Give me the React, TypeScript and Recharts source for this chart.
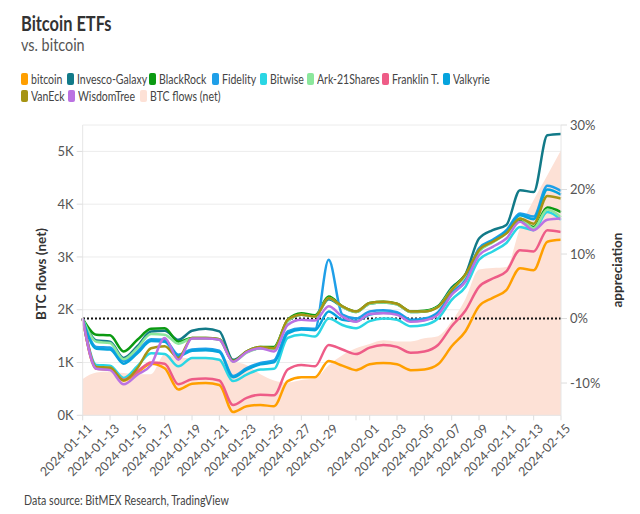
import React from 'react';
import { ComposedChart, Line, Area, XAxis, YAxis, CartesianGrid, ReferenceLine } from 'recharts';

const dates = [
  '2024-01-11', '2024-01-12', '2024-01-13', '2024-01-14', '2024-01-15', '2024-01-16',
  '2024-01-17', '2024-01-18', '2024-01-19', '2024-01-20', '2024-01-21', '2024-01-22',
  '2024-01-23', '2024-01-24', '2024-01-25', '2024-01-26', '2024-01-27', '2024-01-28',
  '2024-01-29', '2024-01-30', '2024-01-31', '2024-02-01', '2024-02-02', '2024-02-03',
  '2024-02-04', '2024-02-05', '2024-02-06', '2024-02-07', '2024-02-08', '2024-02-09',
  '2024-02-10', '2024-02-11', '2024-02-12', '2024-02-13', '2024-02-14', '2024-02-15',
];

const tickDates = [
  '2024-01-11', '2024-01-13', '2024-01-15', '2024-01-17', '2024-01-19', '2024-01-21',
  '2024-01-23', '2024-01-25', '2024-01-27', '2024-01-29', '2024-01-31', '2024-02-01',
  '2024-02-03', '2024-02-05', '2024-02-07', '2024-02-09', '2024-02-11', '2024-02-13',
  '2024-02-15',
];
const unlabeledTickDates = ['2024-01-31'];

// BTC flows (net), thousands of BTC
const btcFlows = [
  0.69, 0.81, 0.83, 0.80, 0.78, 0.78, 1.15, 1.10, 1.08, 1.08, 1.07, 1.02,
  0.95, 0.78, 0.66, 0.62, 0.67, 0.70, 0.95, 1.14, 1.27, 1.35, 1.42, 1.40,
  1.40, 1.46, 1.50, 1.78, 2.20, 2.76, 2.79, 2.81, 3.55, 4.08, 4.55, 5.02,
];

// appreciation, percent
const bitcoin = [
  0, -7.8, -7.9, -9.6, -8.4, -7.0, -7.7, -11.0, -10.1, -10.0, -10.3, -14.5,
  -13.6, -13.4, -13.6, -9.7, -9.1, -9.1, -6.6, -7.3, -8.0, -7.1, -6.9, -7.1,
  -8.0, -7.9, -7.1, -4.3, -2.0, 1.9, 3.2, 4.4, 7.8, 7.5, 11.9, 12.2,
];
const invescoGalaxy = [
  0, -3.4, -3.6, -6.1, -4.3, -2.0, -1.9, -3.3, -1.9, -1.6, -2.0, -6.4,
  -5.2, -4.6, -4.6, -0.4, 0.6, 0.4, 3.0, 1.8, 1.0, 2.3, 2.5, 2.2,
  1.0, 1.1, 1.9, 4.8, 6.8, 12.4, 13.7, 14.5, 19.9, 19.6, 28.4, 28.6,
];
const blackRock = [
  0, -2.5, -2.6, -5.1, -3.3, -1.6, -1.5, -3.6, -3.0, -3.0, -3.2, -6.6,
  -5.1, -4.4, -4.4, -0.2, 0.8, 0.5, 3.4, 1.9, 1.1, 2.4, 2.6, 2.3,
  1.1, 1.2, 1.9, 4.6, 6.8, 10.5, 11.9, 13.3, 15.3, 14.2, 17.2, 16.5,
];
const fidelity = [
  0, -4.4, -4.5, -6.6, -5.1, -3.2, -3.3, -5.6, -4.8, -4.7, -5.0, -8.9,
  -7.7, -6.9, -6.5, -2.0, -1.5, -1.6, 9.1, 0.6, 0.0, 1.1, 1.3, 1.0,
  -0.2, 0.0, 1.0, 4.0, 6.0, 10.9, 12.2, 13.7, 16.3, 15.8, 20.6, 19.8,
];
const bitwise = [
  0, -7.2, -7.3, -9.2, -7.4, -5.4, -5.5, -7.4, -6.1, -6.1, -6.4, -9.7,
  -8.7, -7.9, -7.8, -3.0, -2.5, -2.8, 0.0, -1.0, -1.5, -0.4, 0.0, -0.2,
  -1.2, -1.0, 0.0, 2.9, 4.9, 9.1, 10.4, 11.7, 14.2, 13.7, 16.5, 15.3,
];
const ark21Shares = [
  0, -3.6, -3.8, -6.3, -4.6, -2.4, -2.5, -3.9, -3.1, -3.1, -3.3, -6.7,
  -5.3, -4.6, -4.6, -0.4, 0.6, 0.3, 3.2, 1.8, 1.0, 2.3, 2.5, 2.2,
  1.0, 1.1, 1.8, 4.5, 6.6, 10.4, 11.8, 13.2, 15.5, 14.0, 16.9, 15.7,
];
const franklin = [
  0, -7.7, -7.8, -9.5, -8.2, -6.8, -7.0, -10.2, -9.4, -9.3, -9.6, -13.4,
  -12.3, -11.8, -11.9, -7.9, -7.2, -7.4, -4.1, -4.8, -5.5, -4.5, -4.1, -4.4,
  -5.3, -5.1, -4.1, -1.2, 1.2, 4.9, 6.2, 7.3, 10.6, 10.4, 13.7, 13.4,
];
const valkyrie = [
  0, -4.7, -4.8, -7.0, -5.4, -3.5, -3.6, -5.8, -5.0, -4.9, -5.2, -9.1,
  -7.9, -7.1, -6.8, -2.3, -1.7, -1.8, 1.1, -0.2, -0.4, 0.6, 0.9, 0.7,
  -0.4, -0.2, 0.8, 3.8, 5.8, 10.7, 12.0, 13.5, 16.0, 15.4, 20.0, 19.2,
];
const vanEck = [
  0, -7.5, -7.6, -9.6, -7.7, -4.6, -4.3, -6.1, -3.0, -3.0, -3.2, -6.6,
  -5.1, -4.4, -4.6, -0.2, 0.6, 0.3, 3.2, 1.9, 1.1, 2.4, 2.6, 2.3,
  1.1, 1.1, 1.8, 4.4, 6.8, 10.6, 11.9, 13.2, 15.5, 14.7, 19.0, 18.6,
];
const wisdomTree = [
  0, -7.8, -8.0, -10.2, -8.7, -7.2, -3.0, -6.4, -3.1, -3.1, -3.3, -6.7,
  -5.2, -4.6, -5.1, -1.0, -0.2, -0.3, 1.9, 0.3, -0.5, 0.7, 0.8, 0.6,
  -0.5, -0.3, 0.6, 3.7, 5.7, 9.8, 11.1, 12.4, 15.0, 13.7, 15.3, 15.5,
];

const seriesDefs = [
  { key: 'bitcoin', name: 'bitcoin', color: '#ff9f00', values: bitcoin },
  { key: 'invesco', name: 'Invesco-Galaxy', color: '#127a88', values: invescoGalaxy },
  { key: 'blackrock', name: 'BlackRock', color: '#0b9a12', values: blackRock },
  { key: 'fidelity', name: 'Fidelity', color: '#1f9fe8', values: fidelity },
  { key: 'bitwise', name: 'Bitwise', color: '#2ad6e4', values: bitwise },
  { key: 'ark', name: 'Ark-21Shares', color: '#8be79c', values: ark21Shares },
  { key: 'franklin', name: 'Franklin T.', color: '#ee5c87', values: franklin },
  { key: 'valkyrie', name: 'Valkyrie', color: '#06a3dd', values: valkyrie },
  { key: 'vaneck', name: 'VanEck', color: '#a69413', values: vanEck },
  { key: 'wisdomtree', name: 'WisdomTree', color: '#bb72e2', values: wisdomTree },
];
const flowsName = 'BTC flows (net)';
const flowsColor = '#fde1d6';

const toTime = (s: string) => Date.parse(s + 'T00:00:00Z');

const data = dates.map((d, i) => {
  const row: any = { t: toTime(d), flows: btcFlows[i] };
  seriesDefs.forEach((s) => { row[s.key] = s.values[i]; });
  return row;
});

const xTicks = tickDates.map(toTime);
const unlabeled = unlabeledTickDates.map(toTime);

const fmtDate = (v: number) => {
  if (unlabeled.includes(v)) return '';
  return new Date(v).toISOString().slice(0, 10);
};

const font = 'Lato, "Source Sans Pro", sans-serif';

const XTick = (props: any) => {
  const { x, y, payload } = props;
  const label = fmtDate(payload.value);
  if (!label) return null;
  return (
    <g transform={`translate(${x + 4},${y + 1})`}>
      <text x={0} y={0} dy="0.7em" textAnchor="end" transform="rotate(-45)" fontSize={12.5} fill="#555" fontFamily={font}>
        {label}
      </text>
    </g>
  );
};

const legendRows: { name: string; x: number }[][] = [
  [
    { name: 'bitcoin', x: 21 }, { name: 'Invesco-Galaxy', x: 66.5 }, { name: 'BlackRock', x: 149 },
    { name: 'Fidelity', x: 212 }, { name: 'Bitwise', x: 260 }, { name: 'Ark-21Shares', x: 307 },
    { name: 'Franklin T.', x: 381.5 }, { name: 'Valkyrie', x: 443 },
  ],
  [{ name: 'VanEck', x: 21 }, { name: 'WisdomTree', x: 68 }, { name: flowsName, x: 139.5 }],
];
const colorOf = (name: string) => {
  if (name === flowsName) return flowsColor;
  return seriesDefs.find((s) => s.name === name)!.color;
};

const narrow = (scale: number): React.CSSProperties => ({
  transform: `scaleX(${scale})`,
  transformOrigin: 'left center',
  whiteSpace: 'nowrap',
});

export default function App() {
  return (
    <div style={{ position: 'absolute', left: 0, top: 0, width: 640, height: 514, background: '#fff', fontFamily: font, overflow: 'hidden' }}>
      <div style={{ position: 'absolute', left: 21, top: 10, fontSize: 20.5, fontWeight: 700, color: '#333', lineHeight: '26px', ...narrow(0.8) }}>Bitcoin ETFs</div>
      <div style={{ position: 'absolute', left: 21, top: 33, fontSize: 18, color: '#555', lineHeight: '22px', ...narrow(0.8) }}>vs. bitcoin</div>
      {legendRows.map((row, ri) =>
        row.map((item) => (
          <div key={item.name} style={{ position: 'absolute', left: item.x, top: 73 + ri * 17, height: 12 }}>
            <span style={{ position: 'absolute', left: 0, top: 0, width: 7, height: 12, borderRadius: 2, background: colorOf(item.name) }} />
            <span style={{ position: 'absolute', left: 10, top: -2, fontSize: 13, color: '#444', lineHeight: '16px', ...narrow(0.81) }}>{item.name}</span>
          </div>
        ))
      )}
      <div style={{ position: 'absolute', left: 0, top: 0 }}>
        <ComposedChart width={640} height={514} data={data} margin={{ top: 125, right: 0, bottom: 0, left: 0 }}>
          <CartesianGrid yAxisId="left" vertical={false} stroke="#ececec" strokeWidth={1} />
          <XAxis
            dataKey="t"
            type="number"
            scale="time"
            domain={[toTime(dates[0]), toTime(dates[dates.length - 1])]}
            ticks={xTicks}
            interval={0}
            height={98.7}
            tick={<XTick />}
            tickSize={5}
            tickLine={{ stroke: '#ddd' }}
            axisLine={{ stroke: '#e6e6e6' }}
          />
          <YAxis
            yAxisId="left"
            orientation="left"
            width={82.7}
            domain={[0, 5.5]}
            ticks={[0, 1, 2, 3, 4, 5]}
            tickFormatter={(v: number) => `${v}K`}
            tick={{ fontSize: 13, fill: '#555', fontFamily: font }}
            tickSize={6}
            tickMargin={3}
            tickLine={{ stroke: '#ddd' }}
            axisLine={{ stroke: '#e6e6e6' }}
          />
          <YAxis
            yAxisId="right"
            orientation="right"
            width={79}
            domain={[-15, 30]}
            ticks={[-10, 0, 10, 20, 30]}
            tickFormatter={(v: number) => `${v}%`}
            tick={{ fontSize: 13, fill: '#555', fontFamily: font }}
            tickSize={6}
            tickMargin={3}
            tickLine={{ stroke: '#ddd' }}
            axisLine={{ stroke: '#e6e6e6' }}
          />
          <Area
            yAxisId="left"
            dataKey="flows"
            name={flowsName}
            type="monotone"
            fill={flowsColor}
            fillOpacity={1}
            stroke="none"
            isAnimationActive={false}
            dot={false}
            activeDot={false}
          />
          <ReferenceLine yAxisId="right" y={0} stroke="#111" strokeWidth={2} strokeDasharray="2 2" ifOverflow="extendDomain" />
          {seriesDefs.map((s) => (
            <Line
              key={s.key}
              yAxisId="right"
              dataKey={s.key}
              name={s.name}
              type="monotone"
              stroke={s.color}
              strokeWidth={2.5}
              dot={false}
              activeDot={false}
              isAnimationActive={false}
            />
          ))}
        </ComposedChart>
      </div>
      <div style={{ position: 'absolute', left: 41, top: 274, transform: 'translate(-50%, -50%) rotate(-90deg)', fontSize: 13.5, fontWeight: 700, color: '#333', whiteSpace: 'nowrap' }}>BTC flows (net)</div>
      <div style={{ position: 'absolute', left: 617, top: 270, transform: 'translate(-50%, -50%) rotate(-90deg)', fontSize: 13.5, fontWeight: 700, color: '#333', whiteSpace: 'nowrap' }}>appreciation</div>
      <div style={{ position: 'absolute', left: 24, top: 492, fontSize: 13, color: '#444', ...narrow(0.82) }}>Data source: BitMEX Research, TradingView</div>
    </div>
  );
}
